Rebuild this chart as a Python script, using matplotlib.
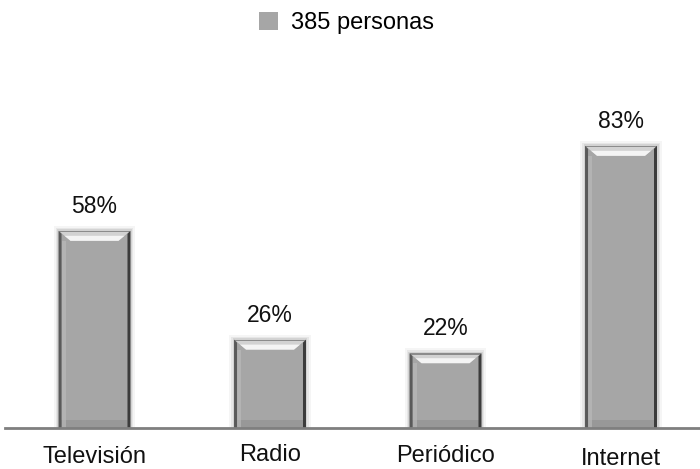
import matplotlib
matplotlib.use("Agg")
import matplotlib.pyplot as plt
from matplotlib.patches import Polygon, Rectangle

plt.rcParams['font.family'] = ['Liberation Sans', 'DejaVu Sans']

categories = ["Televisión", "Radio", "Periódico", "Internet"]
values = [58, 26, 22, 83]
value_labels = ["58%", "26%", "22%", "83%"]
series_name = "385 personas"

W, H = 700, 469
fig = plt.figure(figsize=(W / 100, H / 100), dpi=100)
ax = fig.add_axes([5 / W, 1 - 428 / H, 695 / W, (428 - 88) / H])

face = "#a6a6a6"
xs = list(range(len(categories)))
bars = ax.bar(xs, values, width=0.41, color=face, edgecolor="none",
              label=series_name, zorder=3)

ax.set_xlim(-0.51, 3.45)
ax.set_ylim(0, 100)

# pixel size in data units for the bevel decoration
fig.canvas.draw()
bbox = ax.get_window_extent()
px_x = (ax.get_xlim()[1] - ax.get_xlim()[0]) / bbox.width
px_y = (ax.get_ylim()[1] - ax.get_ylim()[0]) / bbox.height

for b, lab in zip(bars, value_labels):
    x0, w, h = b.get_x(), b.get_width(), b.get_height()
    # soft drop shadow
    for k, a in [(5, 0.04), (3, 0.06), (1.5, 0.08)]:
        ax.add_patch(Rectangle((x0 - k * px_x, 0), w + 2 * k * px_x, h + k * px_y,
                               facecolor="black", alpha=a, edgecolor="none", zorder=2))
    bev_x, bev_y = 12 * px_x, 10 * px_y
    # top bevel
    ax.add_patch(Polygon([(x0, h), (x0 + w, h), (x0 + w - bev_x, h - bev_y),
                          (x0 + bev_x, h - bev_y)], closed=True,
                         facecolor="#d2d2d2", edgecolor="none", zorder=4))
    ax.add_patch(Polygon([(x0 + 0.5 * bev_x, h - 0.5 * bev_y), (x0 + w - 0.5 * bev_x, h - 0.5 * bev_y),
                          (x0 + w - bev_x, h - bev_y), (x0 + bev_x, h - bev_y)], closed=True,
                         facecolor="#f4f4f4", edgecolor="none", zorder=4))
    ax.add_patch(Rectangle((x0, h - 1.5 * px_y), w, 1.5 * px_y,
                           facecolor="#8c8c8c", edgecolor="none", zorder=4))
    # darker base band
    ax.add_patch(Rectangle((x0, 0), w, 8 * px_y,
                           facecolor="#8f8f8f", edgecolor="none", zorder=4, alpha=0.6))
    # dark side edges
    ax.add_patch(Polygon([(x0, 0), (x0 + 3 * px_x, 0), (x0 + 3 * px_x, h - 3 * px_y),
                          (x0, h)], closed=True,
                         facecolor="#5a5a5a", edgecolor="none", zorder=5))
    ax.add_patch(Polygon([(x0 + w - 3 * px_x, 0), (x0 + w, 0), (x0 + w, h),
                          (x0 + w - 3 * px_x, h - 3 * px_y)], closed=True,
                         facecolor="#3c3c3c", edgecolor="none", zorder=5))
    ax.add_patch(Rectangle((x0 + 3 * px_x, 0), 4 * px_x, h - bev_y,
                           facecolor="#bdbdbd", edgecolor="none", zorder=4, alpha=0.6))
    ax.text(b.get_x() + w / 2, h + 18 * px_y, lab, ha="center", va="baseline",
            fontsize=16.5, color="#111111")

for s in ["top", "right", "left"]:
    ax.spines[s].set_visible(False)
ax.spines["bottom"].set_color("#7f7f7f")
ax.spines["bottom"].set_linewidth(2)
ax.spines["bottom"].set_zorder(6)
ax.set_yticks([])
ax.set_xticks([])

# category names under the axis (baseline offsets below the axis, in pixels)
label_drop = [35, 33, 34, 37]
for x, name, d in zip(xs, categories, label_drop):
    ax.text(x, -d * px_y, name, ha="center", va="baseline",
            fontsize=17, color="#111111", clip_on=False)

fig.legend(handles=[bars[0]], labels=[series_name], loc="center",
           bbox_to_anchor=(0.495, 1 - 23 / H), frameon=False, fontsize=17,
           handlelength=0.8, handleheight=0.8, handletextpad=0.55)

fig.savefig("out.png", dpi=100)
